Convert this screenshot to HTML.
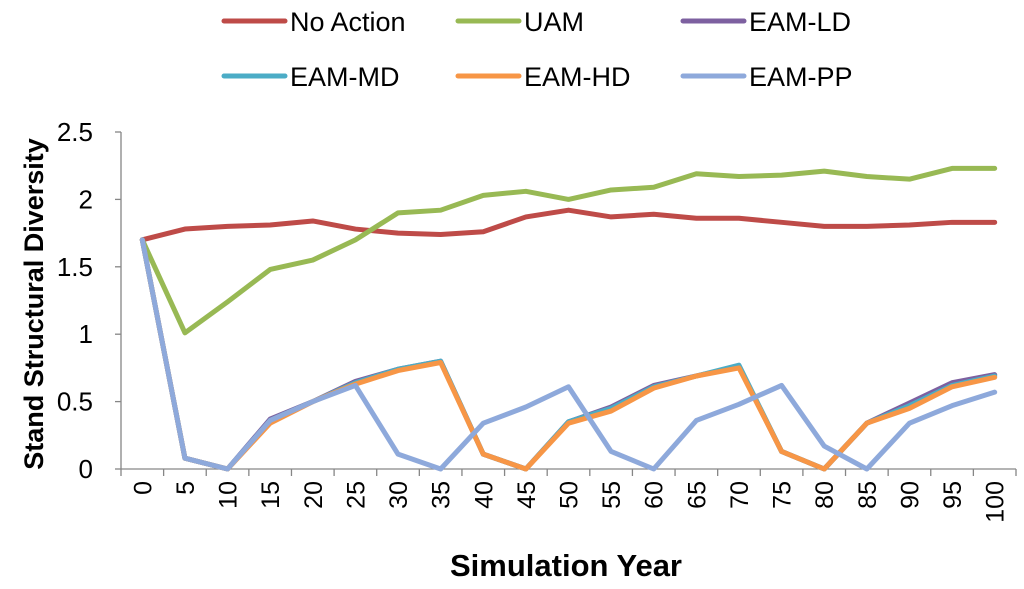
<!DOCTYPE html>
<html><head><meta charset="utf-8"><style>
body{margin:0;background:#fff;width:1024px;height:584px;overflow:hidden}
svg text{font-family:"Liberation Sans",sans-serif;fill:#000}
</style></head><body>
<svg id="c" width="1024" height="584"></svg>
<script>
const years=[0,5,10,15,20,25,30,35,40,45,50,55,60,65,70,75,80,85,90,95,100];
const yTicks=[0,0.5,1,1.5,2,2.5];
const yTickLabels=["0","0.5","1","1.5","2","2.5"];
const seriesNames=["No Action","UAM","EAM-LD","EAM-MD","EAM-HD","EAM-PP"];
const noAction=[1.70,1.78,1.80,1.81,1.84,1.78,1.75,1.74,1.76,1.87,1.92,1.87,1.89,1.86,1.86,1.83,1.80,1.80,1.81,1.83,1.83];
const uam=[1.70,1.01,1.24,1.48,1.55,1.70,1.90,1.92,2.03,2.06,2.00,2.07,2.09,2.19,2.17,2.18,2.21,2.17,2.15,2.23,2.23];
const eamLD=[1.70,0.08,0.0,0.37,0.50,0.65,0.74,0.80,0.11,0.0,0.35,0.46,0.62,0.69,0.76,0.13,0.0,0.34,0.49,0.64,0.70];
const eamMD=[1.70,0.08,0.0,0.36,0.50,0.64,0.74,0.80,0.11,0.0,0.35,0.45,0.61,0.69,0.77,0.13,0.0,0.34,0.47,0.62,0.69];
const eamHD=[1.70,0.08,0.0,0.34,0.50,0.63,0.73,0.79,0.11,0.0,0.34,0.43,0.60,0.69,0.75,0.13,0.0,0.34,0.45,0.61,0.68];
const eamPP=[1.70,0.08,0.0,0.36,0.50,0.62,0.11,0.0,0.34,0.46,0.61,0.13,0.0,0.36,0.48,0.62,0.17,0.0,0.34,0.47,0.57];
const colors=["#BE4B48","#98B954","#7D60A0","#4BACC6","#F79646","#8EA9DB"];
const data=[noAction,uam,eamLD,eamMD,eamHD,eamPP];
const NS="http://www.w3.org/2000/svg";
const svg=document.getElementById('c');
const x0=121,x1=1016,yb=469,yt=132;
const step=(x1-x0)/years.length;
function X(i){return x0+step*(i+0.5);}
function Y(v){return yb-(v/2.5)*(yb-yt);}
function mk(t,a,p){const e=document.createElementNS(NS,t);for(const k in a)e.setAttribute(k,a[k]);(p||svg).appendChild(e);return e;}
let ay=mk('line',{x1:x0,y1:yt,x2:x0,y2:yb,stroke:'#868686','stroke-width':1.3});


let ax=mk('line',{x1:x0,y1:yb,x2:x1,y2:yb,stroke:'#868686','stroke-width':1.3});


yTicks.forEach((v,i)=>{
  mk('line',{x1:x0-6,y1:Y(v),x2:x0,y2:Y(v),stroke:'#868686','stroke-width':1.3});
  const t=mk('text',{x:x0-28,y:Y(v)+9,'text-anchor':'end','font-size':26});
  t.textContent=yTickLabels[i];
  
  
});
for(let i=0;i<=years.length;i++){
  mk('line',{x1:x0+step*i,y1:yb,x2:x0+step*i,y2:yb+7,stroke:'#868686','stroke-width':1.3});
}
years.forEach((y,i)=>{
  const t=mk('text',{transform:`translate(${X(i)+9},${yb+12}) rotate(-90)`,'text-anchor':'end','font-size':25});
  t.textContent=y;
  
  
});
data.forEach((s,k)=>{
  const p=mk('polyline',{points:s.map((v,i)=>X(i)+','+Y(v)).join(' '),fill:'none',stroke:colors[k],'stroke-width':5,'stroke-linejoin':'round','stroke-linecap':'round'});
  
  
});
const lx=[224,458,683],ly=[21,76];
seriesNames.forEach((n,k)=>{
  const r=Math.floor(k/3),c=k%3;
  const g=mk('g',{});
  
  
  mk('line',{x1:lx[c],y1:ly[r],x2:lx[c]+61,y2:ly[r],stroke:colors[k],'stroke-width':5,'stroke-linecap':'round'},g);
  const t=mk('text',{x:lx[c]+66,y:ly[r]+10,'font-size':27},g);
  t.textContent=n;
});
let yt2=mk('text',{transform:'translate(43,304) rotate(-90)','text-anchor':'middle','font-size':27,'font-weight':'bold'});
yt2.textContent='Stand Structural Diversity';


let xt=mk('text',{x:566,y:576,'text-anchor':'middle','font-size':31,'font-weight':'bold'});
xt.textContent='Simulation Year';


</script>
</body></html>
